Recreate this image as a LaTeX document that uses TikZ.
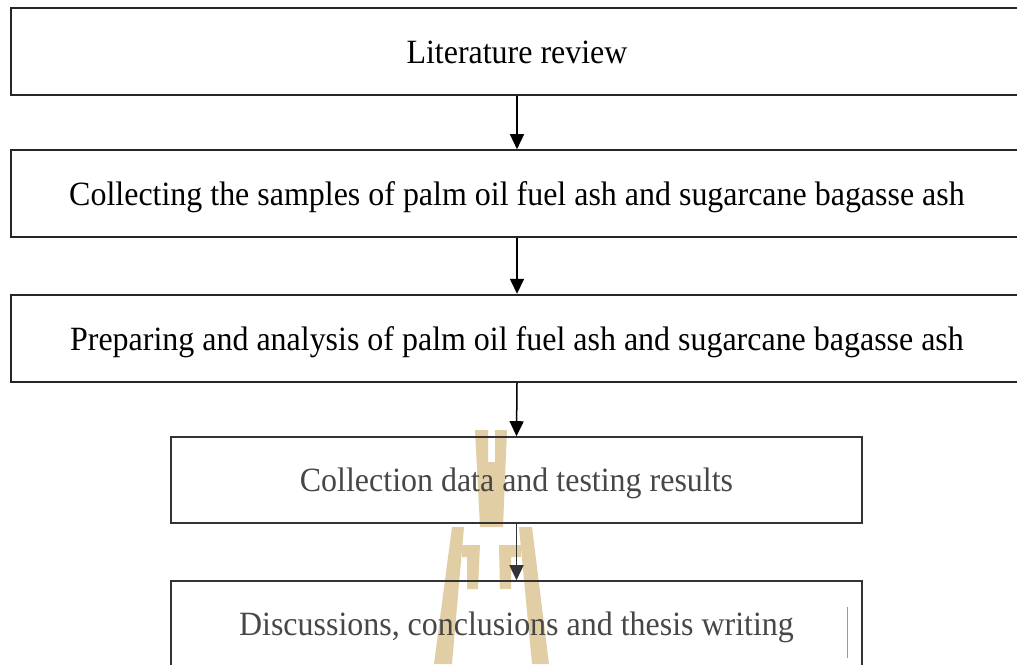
\documentclass[tikz,border=0pt]{standalone}
\usepackage{fontspec}
\setmainfont{Liberation Serif}[FakeStretch=0.94]
\usetikzlibrary{arrows.meta}
\definecolor{wmtan}{RGB}{226,206,164}
\begin{document}
\begin{tikzpicture}[x=1pt,y=-1pt,
  bigbox/.style={draw=black!85,line width=2pt,minimum width=1012pt,minimum height=87pt,
    inner sep=0pt,font=\fontsize{34}{40}\selectfont,text=black,text height=24pt,text depth=0pt},
  smallbox/.style={draw=black!80,line width=1.6pt,minimum width=691pt,minimum height=86pt,
    inner sep=0pt,font=\fontsize{34}{40}\selectfont,text=black!72,text height=23.5pt,text depth=0pt},
  flow/.style={line width=1.5pt,-{Triangle[width=14pt,length=15pt]}},
  wm/.style={fill=wmtan,draw=none}]
\useasboundingbox (0,0) rectangle (1017,664);
\clip (0,0) rectangle (1017,664);
\fill[white] (0,0) rectangle (1017,664);
% watermark
\fill[wm] (475,430) -- (488,430) -- (488,462) -- (495,462) -- (495,430) -- (507,430)
  -- (503,527) -- (480,527) -- cycle;
\fill[wm] (452,527) -- (464,527) -- (452,664) -- (434,664) -- cycle;
\fill[wm] (462,545) -- (480,545) -- (478,589) -- (467,589) -- (467,557) -- (462,557) -- cycle;
\fill[wm] (519,527) -- (532,527) -- (549,664) -- (532,664) -- cycle;
\fill[wm] (521,545) -- (499,545) -- (500,589) -- (511,589) -- (511,557) -- (521,557) -- cycle;
% boxes
\node[bigbox] (b1) at (517,51.5) {Literature review};
\node[bigbox] (b2) at (517,193.7) {Collecting the samples of palm oil fuel ash and sugarcane bagasse ash};
\node[bigbox] (b3) at (517,338.3) {Preparing and analysis of palm oil fuel ash and sugarcane bagasse ash};
\node[smallbox] (b4) at (516.5,480) {Collection data and testing results};
\node[smallbox] (b5) at (516.5,624) {Discussions, conclusions and thesis writing};
\coordinate (art1) at (847,607);
\coordinate (art2) at (847,658);
\draw[black!40,line width=0.8pt] (art1) -- (art2);
% arrows
\draw[flow] (b1.south) -- (b2.north);
\draw[flow] (b2.south) -- (b3.north);
\draw[flow] (b3.south) -- (b4.north);
\draw[flow,black!80] (b4.south) -- (b5.north);
\end{tikzpicture}
\end{document}
